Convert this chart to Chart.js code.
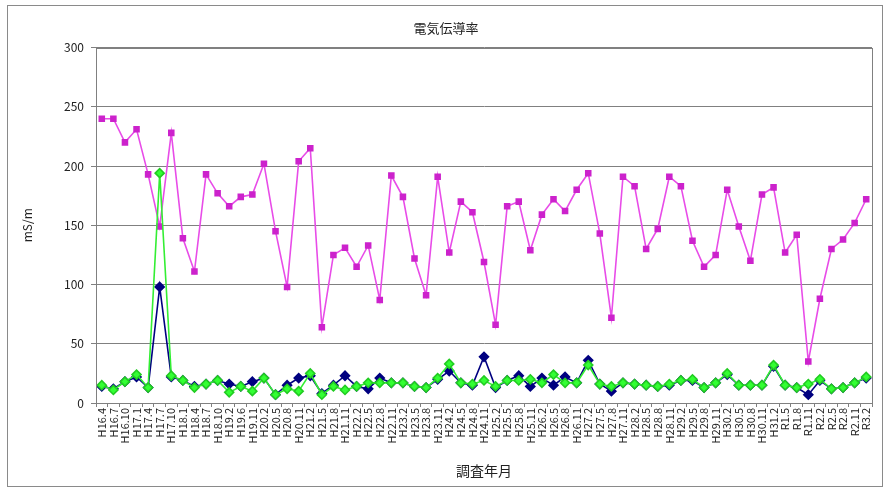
<!DOCTYPE html>
<html>
<head>
<meta charset="utf-8">
<script src="https://cdn.jsdelivr.net/npm/chart.js@4/dist/chart.umd.min.js"></script>
<style>
    html, body { margin: 0; padding: 0; background: #fff; }
    #wrap { width: 890px; height: 490px; }
</style>
</head>
<body>
<div id="wrap"><canvas id="ecChart" width="890" height="490"></canvas></div>
<script>
const surveyDates = [
    'H16.4', 'H16.7', 'H16.10', 'H17.1', 'H17.4', 'H17.7', 'H17.10', 'H18.1', 'H18.4', 'H18.7',
    'H18.10', 'H19.2', 'H19.6', 'H19.11', 'H20.2', 'H20.5', 'H20.8', 'H20.11', 'H21.2', 'H21.5',
    'H21.8', 'H21.11', 'H22.2', 'H22.5', 'H22.8', 'H22.11', 'H23.2', 'H23.5', 'H23.8', 'H23.11',
    'H24.2', 'H24.5', 'H24.8', 'H24.11', 'H25.2', 'H25.5', 'H25.8', 'H25.11', 'H26.2', 'H26.5',
    'H26.8', 'H26.11', 'H27.2', 'H27.5', 'H27.8', 'H27.11', 'H28.2', 'H28.5', 'H28.8', 'H28.11',
    'H29.2', 'H29.5', 'H29.8', 'H29.11', 'H30.2', 'H30.5', 'H30.8', 'H30.11', 'H31.2', 'R1.5',
    'R1.8', 'R1.11', 'R2.2', 'R2.5', 'R2.8', 'R2.11', 'R3.2'
];

const pointA = [
    240, 240, 220, 231, 193, 149, 228, 139, 111, 193,
    177, 166, 174, 176, 202, 145, 98, 204, 215, 64,
    125, 131, 115, 133, 87, 192, 174, 122, 91, 191,
    127, 170, 161, 119, 66, 166, 170, 129, 159, 172,
    162, 180, 194, 143, 72, 191, 183, 130, 147, 191,
    183, 137, 115, 125, 180, 149, 120, 176, 182, 127,
    142, 35, 88, 130, 138, 152, 172
];

const pointB = [
    14, 12, 18, 22, 13, 98, 22, 19, 14, 16,
    19, 16, 14, 18, 21, 7, 15, 21, 23, 8,
    15, 23, 14, 12, 21, 17, 17, 14, 13, 20,
    27, 17, 15, 39, 13, 19, 23, 14, 21, 15,
    22, 17, 36, 16, 10, 17, 16, 15, 14, 15,
    19, 19, 13, 17, 24, 15, 15, 15, 31, 15,
    13, 7, 19, 12, 13, 17, 21
];

const pointC = [
    15, 11, 18, 24, 13, 194, 23, 19, 13, 16,
    19, 9, 14, 10, 21, 7, 12, 10, 25, 7,
    14, 11, 14, 17, 17, 17, 17, 14, 13, 21,
    33, 17, 16, 19, 14, 19, 19, 20, 17, 24,
    17, 17, 32, 16, 14, 17, 16, 15, 14, 16,
    19, 20, 13, 17, 25, 15, 15, 15, 32, 15,
    13, 16, 20, 12, 13, 17, 22
];

const yTicks = [0, 50, 100, 150, 200, 250, 300];

// white background, outer frame and plot frame
const framePlugin = {
    id: 'frames',
    beforeDraw(chart) {
        const ctx = chart.ctx;
        ctx.save();
        ctx.fillStyle = '#fff';
        ctx.fillRect(0, 0, chart.width, chart.height);
        ctx.strokeStyle = '#8a8a8a';
        ctx.lineWidth = 1;
        ctx.strokeRect(7.5, 5.5, chart.width - 15, chart.height - 9);
        ctx.restore();
    },
    afterDatasetsDraw(chart) {
        const a = chart.chartArea;
        const ctx = chart.ctx;
        ctx.save();
        ctx.strokeStyle = '#808080';
        ctx.lineWidth = 1;
        ctx.strokeRect(Math.round(a.left) + 0.5, Math.round(a.top) + 0.5,
            Math.round(a.right - a.left), Math.round(a.bottom - a.top));
        ctx.restore();
    }
};

Chart.defaults.font.family = '"Noto Sans CJK JP", "DejaVu Sans", sans-serif';
Chart.defaults.color = '#222';

new Chart(document.getElementById('ecChart'), {
    type: 'line',
    data: {
        labels: surveyDates,
        datasets: [
            {
                label: 'A',
                data: pointA,
                order: 3,
                borderColor: '#e84ce8',
                backgroundColor: '#cc22cc',
                pointBackgroundColor: '#cc22cc',
                pointBorderColor: '#cc22cc',
                pointStyle: 'rect',
                pointRadius: 3.5,
                borderWidth: 1.6,
                tension: 0
            },
            {
                label: 'B',
                data: pointB,
                order: 2,
                borderColor: '#000080',
                backgroundColor: '#000080',
                pointBackgroundColor: '#000080',
                pointBorderColor: '#000080',
                pointStyle: 'rectRot',
                pointRadius: 4.5,
                borderWidth: 1.6,
                tension: 0
            },
            {
                label: 'C',
                data: pointC,
                order: 1,
                borderColor: '#33ee33',
                backgroundColor: '#33ff33',
                pointBackgroundColor: '#33ff33',
                pointBorderColor: '#22cc22',
                pointStyle: 'rectRot',
                pointRadius: 4.5,
                borderWidth: 1.6,
                tension: 0
            }
        ]
    },
    options: {
        responsive: false,
        animation: false,
        layout: { padding: { left: 20, right: 18, top: 11, bottom: 6 } },
        plugins: {
            legend: { display: false },
            tooltip: { enabled: false },
            title: {
                display: true,
                text: '電気伝導率',
                color: '#222',
                font: { size: 13, weight: 'normal' },
                padding: { top: 9, bottom: 12 }
            }
        },
        scales: {
            x: {
                offset: true,
                grid: {
                    offset: true,
                    drawOnChartArea: false,
                    drawTicks: true,
                    tickLength: 4,
                    color: '#808080'
                },
                border: { color: '#808080' },
                ticks: {
                    autoSkip: false,
                    maxRotation: 90,
                    minRotation: 90,
                    padding: 1,
                    color: '#222',
                    font: { size: 11 }
                },
                title: {
                    display: true,
                    text: '調査年月',
                    color: '#222',
                    font: { size: 14 },
                    padding: { top: 0, bottom: 5 }
                },
                afterFit(scale) { scale.height = 81; }
            },
            y: {
                min: 0,
                max: 300,
                afterBuildTicks(scale) {
                    scale.ticks = yTicks.map(v => ({ value: v }));
                },
                grid: {
                    color: '#808080',
                    drawTicks: true,
                    tickLength: 5
                },
                border: { color: '#808080' },
                ticks: {
                    padding: 7,
                    color: '#222',
                    font: { size: 12 }
                },
                title: {
                    display: true,
                    text: 'mS/m',
                    color: '#222',
                    font: { size: 12 },
                    padding: { top: 0, bottom: 8 }
                },
                afterFit(scale) { scale.width = 76; }
            }
        }
    },
    plugins: [framePlugin]
});
</script>
</body>
</html>
